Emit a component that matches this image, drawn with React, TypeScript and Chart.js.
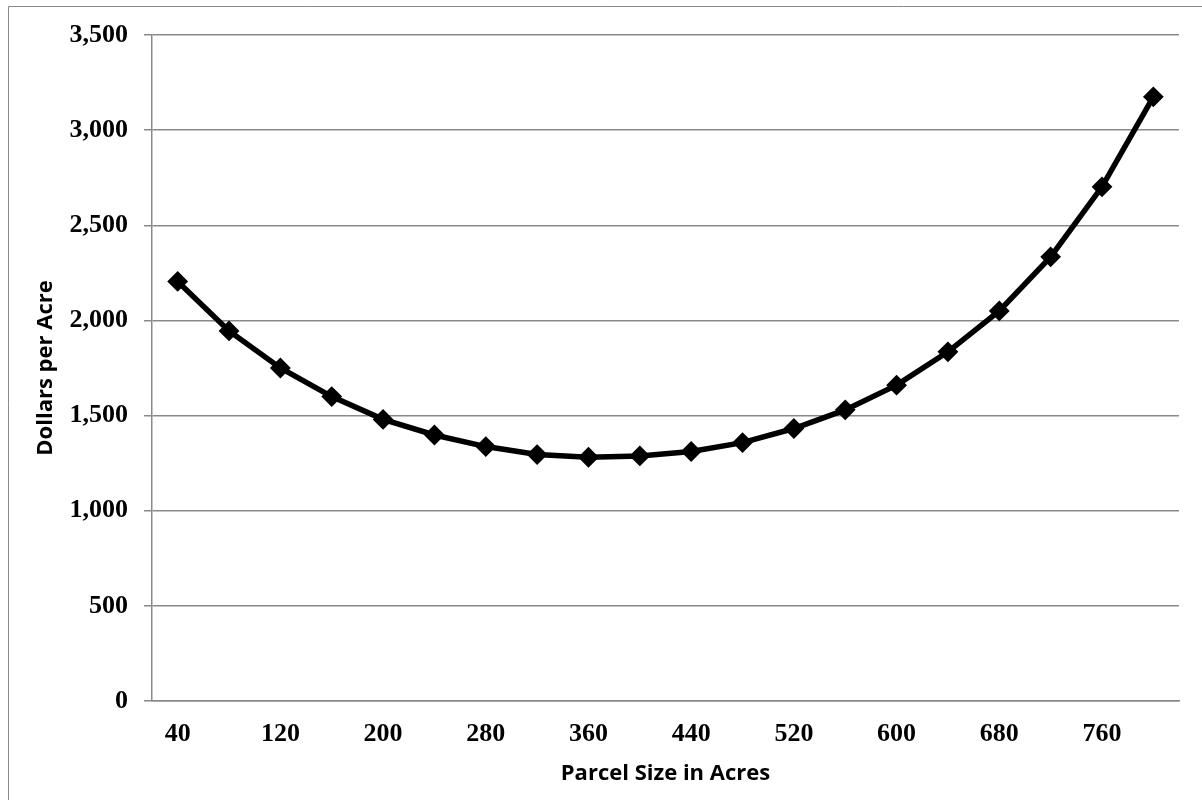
import React, { useEffect, useRef } from "react";
import { Chart, registerables } from "chart.js";

Chart.register(...registerables);

const parcelSizes: string[] = [
  "40", "80", "120", "160", "200", "240", "280", "320", "360", "400",
  "440", "480", "520", "560", "600", "640", "680", "720", "760", "800",
];

const dollarsPerAcre: number[] = [
  2205, 1945, 1750, 1600, 1480, 1398, 1337, 1295, 1281, 1288,
  1311, 1358, 1432, 1530, 1660, 1835, 2050, 2334, 2702, 3175,
];

const yMin = 0;
const yMax = 3500;
const yStep = 500;

const xTitle = "Parcel Size in Acres";
const yTitle = "Dollars per Acre";

const GRAY = "#898989";
const TICK_FONT = { family: "'Liberation Serif', 'Times New Roman', serif", size: 26, weight: "bold" as const };
const TITLE_FONT = { family: "'Open Sans', sans-serif", size: 22, weight: "bold" as const };

const framePlugin = {
  id: "frame",
  beforeDraw(chart: any) {
    const { ctx, width, height } = chart;
    ctx.save();
    ctx.fillStyle = "#ffffff";
    ctx.fillRect(0, 0, width, height);
    ctx.strokeStyle = GRAY;
    ctx.lineWidth = 1;
    ctx.beginPath();
    ctx.moveTo(8.5, height);
    ctx.lineTo(8.5, 6.5);
    ctx.lineTo(width, 6.5);
    ctx.stroke();
    ctx.restore();
  },
};

export default function App() {
  const canvasRef = useRef<HTMLCanvasElement | null>(null);

  useEffect(() => {
    if (!canvasRef.current) return;
    const chart = new Chart(canvasRef.current, {
      type: "line",
      data: {
        labels: parcelSizes,
        datasets: [
          {
            data: dollarsPerAcre,
            borderColor: "#000000",
            backgroundColor: "#000000",
            borderWidth: 5.5,
            tension: 0,
            pointStyle: "rectRot",
            pointRadius: 9,
            pointBorderWidth: 2,
            pointBackgroundColor: "#000000",
            pointBorderColor: "#000000",
          },
        ],
      },
      options: {
        responsive: false,
        animation: false,
        layout: { padding: { left: 0, top: 35, right: 23, bottom: 0 } },
        plugins: {
          legend: { display: false },
          tooltip: { enabled: false },
        },
        scales: {
          x: {
            type: "category",
            offset: true,
            grid: { display: false, drawTicks: false },
            border: { display: true, color: GRAY, width: 1.5 },
            ticks: {
              autoSkip: false,
              maxRotation: 0,
              padding: 18,
              color: "#000000",
              font: TICK_FONT,
              callback: function (_v: any, index: number) {
                return index % 2 === 0 ? parcelSizes[index] : "";
              },
            },
            title: {
              display: true,
              text: xTitle,
              color: "#000000",
              font: TITLE_FONT,
              padding: { top: 0, bottom: 13 },
            },
            afterFit: (scale: any) => {
              scale.height = 99;
            },
          },
          y: {
            min: yMin,
            max: yMax,
            grid: {
              color: GRAY,
              lineWidth: 1.5,
              drawTicks: true,
              tickLength: 8,
            },
            border: { display: true, color: GRAY, width: 1.5 },
            ticks: {
              stepSize: yStep,
              padding: 16,
              color: "#000000",
              font: TICK_FONT,
              callback: (v: any) => Number(v).toLocaleString("en-US"),
            },
            title: {
              display: true,
              text: yTitle,
              color: "#000000",
              font: TITLE_FONT,
              padding: { top: 33, bottom: 0 },
            },
            afterFit: (scale: any) => {
              scale.width = 152;
            },
          },
        },
      },
      plugins: [framePlugin],
    });
    return () => chart.destroy();
  }, []);

  return (
    <div style={{ position: "fixed", left: 0, top: 0, width: 1202, height: 800, background: "#fff" }}>
      <canvas ref={canvasRef} width={1202} height={800} style={{ display: "block" }} />
    </div>
  );
}
